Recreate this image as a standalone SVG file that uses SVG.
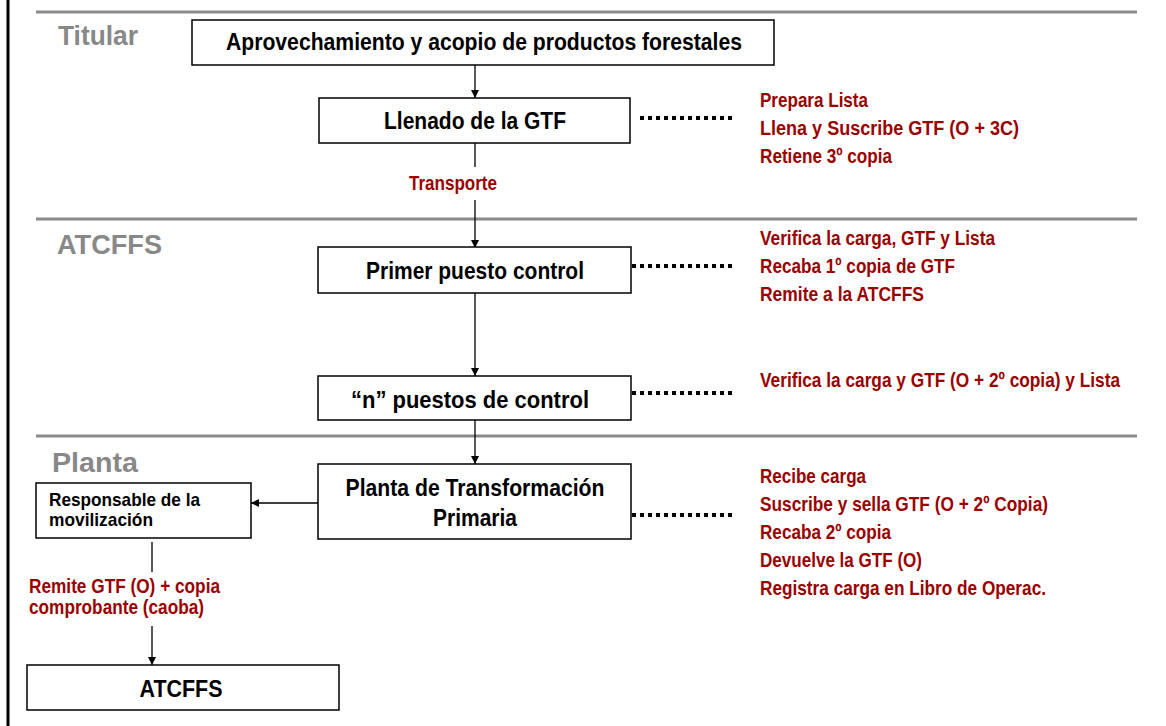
<svg xmlns="http://www.w3.org/2000/svg" width="1166" height="726" viewBox="0 0 1166 726">
<defs>
<style>
.box{fill:#fff;stroke:#000;stroke-width:1.5}
.bt{font-family:"Liberation Sans",Arial,sans-serif;font-weight:bold;font-size:23px;fill:#000;text-anchor:middle}
.st{font-family:"Liberation Sans",Arial,sans-serif;font-weight:bold;font-size:19px;fill:#000}
.rt{font-family:"Liberation Sans",Arial,sans-serif;font-weight:bold;font-size:20px;fill:#990000}
.gt{font-family:"Liberation Sans",Arial,sans-serif;font-weight:bold;font-size:27px;fill:#888}
.sep{stroke:#8a8a8a;stroke-width:3}
.ln{stroke:#000;stroke-width:1.3;fill:none}
.dot{stroke:#000;stroke-width:4;stroke-dasharray:4 4;fill:none}
</style>
<marker id="ah" viewBox="0 0 10 10" refX="10" refY="5" markerWidth="8" markerHeight="9" markerUnits="userSpaceOnUse" orient="auto">
<path d="M0,0 L10,5 L0,10 z" fill="#000"/>
</marker>
</defs>
<rect x="0" y="0" width="1166" height="726" fill="#fff"/>
<line x1="8" y1="0" x2="8" y2="726" stroke="#000" stroke-width="3"/>
<g id="lanes">
<line class="sep" x1="36" y1="12" x2="1137" y2="12"/>
<line class="sep" x1="36" y1="219" x2="1137" y2="219"/>
<line class="sep" x1="36" y1="436" x2="1137" y2="436"/>
<text class="gt" x="58" y="45" textLength="80" lengthAdjust="spacingAndGlyphs">Titular</text>
<text class="gt" x="57" y="254" textLength="105" lengthAdjust="spacingAndGlyphs">ATCFFS</text>
<text class="gt" x="52" y="472" textLength="86" lengthAdjust="spacingAndGlyphs">Planta</text>
</g>
<g id="connectors">
<line class="ln" x1="475" y1="65" x2="475" y2="98" marker-end="url(#ah)"/>
<line class="ln" x1="475" y1="143" x2="475" y2="167"/>
<line class="ln" x1="475" y1="200" x2="475" y2="248" marker-end="url(#ah)"/>
<line class="ln" x1="475" y1="293" x2="475" y2="376" marker-end="url(#ah)"/>
<line class="ln" x1="475" y1="420" x2="475" y2="464" marker-end="url(#ah)"/>
<line class="ln" x1="318" y1="503" x2="251" y2="503" marker-end="url(#ah)"/>
<line class="ln" x1="152" y1="542" x2="152" y2="572"/>
<line class="ln" x1="152" y1="626" x2="152" y2="665" marker-end="url(#ah)"/>
<line class="dot" x1="640" y1="118" x2="734" y2="118"/>
<line class="dot" x1="632" y1="266" x2="734" y2="266"/>
<line class="dot" x1="632" y1="393" x2="734" y2="393"/>
<line class="dot" x1="632" y1="515" x2="734" y2="515"/>
<text class="rt" x="409" y="190" textLength="88" lengthAdjust="spacingAndGlyphs">Transporte</text>
<text class="rt" x="29" y="593" textLength="191" lengthAdjust="spacingAndGlyphs">Remite GTF (O) + copia</text>
<text class="rt" x="29" y="614" textLength="175" lengthAdjust="spacingAndGlyphs">comprobante (caoba)</text>
</g>
<g id="n1">
<rect class="box" x="192" y="20" width="582" height="45"/>
<text class="bt" x="484" y="50" textLength="516" lengthAdjust="spacingAndGlyphs">Aprovechamiento y acopio de productos forestales</text>
</g>
<g id="n2">
<rect class="box" x="319" y="98" width="311" height="45"/>
<text class="bt" x="475" y="129" textLength="182" lengthAdjust="spacingAndGlyphs">Llenado de la GTF</text>
</g>
<g id="n2notes">
<text class="rt" x="760" y="107" textLength="108" lengthAdjust="spacingAndGlyphs">Prepara Lista</text>
<text class="rt" x="760" y="135" textLength="259" lengthAdjust="spacingAndGlyphs">Llena y Suscribe GTF (O + 3C)</text>
<text class="rt" x="760" y="163" textLength="132" lengthAdjust="spacingAndGlyphs">Retiene 3º copia</text>
</g>
<g id="n3">
<rect class="box" x="318" y="247" width="313" height="46"/>
<text class="bt" x="475" y="279" textLength="218" lengthAdjust="spacingAndGlyphs">Primer puesto control</text>
</g>
<g id="n3notes">
<text class="rt" x="760" y="245" textLength="235" lengthAdjust="spacingAndGlyphs">Verifica la carga, GTF y Lista</text>
<text class="rt" x="760" y="273" textLength="195" lengthAdjust="spacingAndGlyphs">Recaba 1º copia de GTF</text>
<text class="rt" x="760" y="301" textLength="164" lengthAdjust="spacingAndGlyphs">Remite a la ATCFFS</text>
</g>
<g id="n4">
<rect class="box" x="318" y="376" width="313" height="44"/>
<text class="bt" x="470" y="408" textLength="238" lengthAdjust="spacingAndGlyphs">“n” puestos de control</text>
</g>
<g id="n4notes">
<text class="rt" x="760" y="387" textLength="360" lengthAdjust="spacingAndGlyphs">Verifica la carga y GTF (O + 2º copia) y Lista</text>
</g>
<g id="n5">
<rect class="box" x="318" y="464" width="313" height="75"/>
<text class="bt" x="475" y="496" textLength="259" lengthAdjust="spacingAndGlyphs">Planta de Transformación</text>
<text class="bt" x="475" y="526" textLength="84" lengthAdjust="spacingAndGlyphs">Primaria</text>
</g>
<g id="n5notes">
<text class="rt" x="760" y="483" textLength="106" lengthAdjust="spacingAndGlyphs">Recibe carga</text>
<text class="rt" x="760" y="511" textLength="288" lengthAdjust="spacingAndGlyphs">Suscribe y sella GTF (O + 2º Copia)</text>
<text class="rt" x="760" y="539" textLength="131" lengthAdjust="spacingAndGlyphs">Recaba 2º copia</text>
<text class="rt" x="760" y="567" textLength="162" lengthAdjust="spacingAndGlyphs">Devuelve la GTF (O)</text>
<text class="rt" x="760" y="595" textLength="286" lengthAdjust="spacingAndGlyphs">Registra carga en Libro de Operac.</text>
</g>
<g id="n6">
<rect class="box" x="36" y="483" width="215" height="55"/>
<text class="st" x="49" y="506" textLength="151" lengthAdjust="spacingAndGlyphs">Responsable de la</text>
<text class="st" x="49" y="526" textLength="104" lengthAdjust="spacingAndGlyphs">movilización</text>
</g>
<g id="n7">
<rect class="box" x="27" y="665" width="312" height="45"/>
<text class="bt" x="181" y="697" textLength="83" lengthAdjust="spacingAndGlyphs">ATCFFS</text>
</g>
</svg>
